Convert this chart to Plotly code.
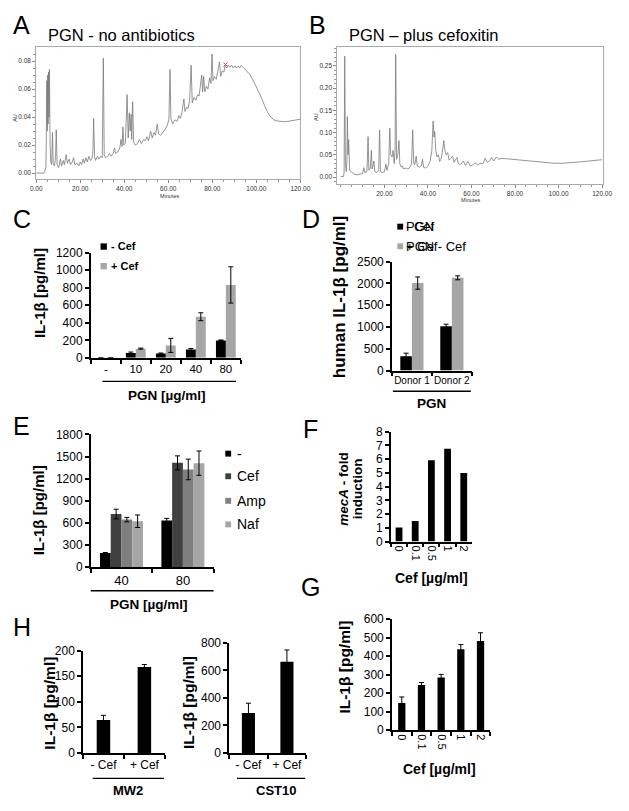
import plotly.graph_objects as go

W, H = 629, 811
FONT = "Liberation Sans, Arial, sans-serif"

# ---------------- data ----------------
# Panel A: chromatogram, PGN without antibiotics (minutes, AU)
A_min = [0, 3.5, 4.0, 4.4, 4.6, 4.8, 5.0, 5.2, 5.4, 5.6, 5.8, 6.0, 6.3, 6.6, 7.0, 7.4, 7.7, 8.3,
         8.8, 9.1, 9.5, 10.2, 11.0, 11.5, 12.3, 12.8, 13.6, 14.2, 15.0, 15.6, 16.4, 17.0, 17.5,
         18.5, 19.3, 20.0, 20.6, 21.3, 21.9, 22.6, 23.2, 24.0, 24.6, 25.3, 25.8, 26.1, 26.5, 27.0,
         27.8, 28.5, 29.4, 30.0, 30.5, 30.9, 31.5, 32.5, 33.3, 34.0, 35.0, 35.6, 36.0, 37.0, 38.0,
         38.5, 39.0, 39.4, 39.8, 40.5, 41.3, 41.8, 42.3, 42.7, 43.1, 43.4, 43.8, 44.3, 45.0, 46.0,
         47.0, 47.8, 48.8, 49.5, 50.3, 51.0, 52.0, 52.7, 53.5, 54.2, 55.0, 55.6, 56.5, 57.5, 58.5,
         59.5, 60.3, 60.8, 61.2, 62.0, 63.0, 64.0, 64.8, 65.5, 66.3, 67.1, 67.6, 68.3, 69.0, 69.7,
         70.4, 70.9, 71.7, 72.5, 73.3, 74.0, 74.7, 75.2, 75.6, 76.1, 76.6, 77.3, 78.0, 78.8, 79.4,
         79.9, 80.3, 81.0, 81.8, 82.5, 83.3, 83.8, 84.5, 85.3, 85.8, 86.5, 87.3, 88.0, 88.8, 89.5,
         90.3, 91.0, 91.8, 92.5, 93.2, 94.0, 95.0, 96.0, 97.0, 98.0, 99.0, 100.0, 101.0, 102.0,
         103.0, 104.0, 105.0, 106.0, 107.0, 108.0, 109.0, 110.0, 112.0, 114.0, 116.0, 118.0, 120.0]
A_au = [0.0, 0.0, 0.002, 0.004, 0.025, 0.066, 0.030, 0.070, 0.035, 0.072, 0.040, 0.074, 0.020,
        0.008, 0.006, 0.029, 0.007, 0.005, 0.012, 0.031, 0.006, 0.004, 0.010, 0.005, 0.009, 0.006,
        0.013, 0.007, 0.010, 0.006, 0.008, 0.011, 0.006, 0.007, 0.005, 0.008, 0.006, 0.010, 0.007,
        0.011, 0.008, 0.012, 0.009, 0.010, 0.016, 0.039, 0.012, 0.009, 0.012, 0.010, 0.012, 0.011,
        0.082, 0.013, 0.011, 0.012, 0.014, 0.012, 0.014, 0.018, 0.014, 0.015, 0.018, 0.024, 0.019,
        0.033, 0.020, 0.021, 0.056, 0.025, 0.043, 0.030, 0.042, 0.024, 0.051, 0.022, 0.020, 0.021,
        0.024, 0.021, 0.024, 0.023, 0.026, 0.023, 0.030, 0.025, 0.029, 0.027, 0.035, 0.028, 0.027,
        0.029, 0.031, 0.034, 0.038, 0.074, 0.039, 0.035, 0.038, 0.037, 0.041, 0.039, 0.044, 0.053,
        0.044, 0.047, 0.046, 0.052, 0.077, 0.050, 0.054, 0.052, 0.056, 0.055, 0.066, 0.070, 0.058,
        0.069, 0.058, 0.062, 0.060, 0.068, 0.064, 0.085, 0.066, 0.069, 0.067, 0.074, 0.0795, 0.069,
        0.073, 0.072, 0.077, 0.075, 0.077, 0.0755, 0.077, 0.075, 0.0765, 0.075, 0.0765, 0.075,
        0.0768, 0.0755, 0.074, 0.072, 0.0705, 0.068, 0.065, 0.062, 0.059, 0.055, 0.051, 0.047,
        0.044, 0.041, 0.0395, 0.038, 0.0373, 0.037, 0.0368, 0.0368, 0.0372, 0.0378, 0.0385]
A_mark_min = [86.0]
A_mark_au = [0.0775]

# Panel B: chromatogram, PGN plus cefoxitin (minutes, AU)
B_min = [0, 1.2, 1.5, 1.8, 2.1, 2.5, 2.8, 3.0, 3.3, 3.6, 4.0, 5.0, 6.0, 7.5, 9.0, 10.0, 10.6, 11.0,
         12.0, 12.5, 12.9, 13.6, 14.0, 14.4, 15.2, 15.6, 16.5, 17.4, 17.8, 18.2, 19.0, 20.0, 20.7,
         21.2, 22.0, 22.5, 22.9, 23.5, 24.0, 24.5, 24.9, 25.2, 25.6, 26.2, 26.7, 27.1, 27.8, 28.2,
         28.8, 29.8, 30.8, 31.8, 32.5, 33.0, 33.5, 34.0, 34.6, 35.1, 36.0, 37.0, 37.5, 38.0, 39.0,
         40.0, 41.0, 41.8, 42.4, 42.8, 43.1, 43.6, 44.2, 44.8, 45.4, 46.0, 46.6, 47.3, 47.8, 48.4,
         49.1, 49.7, 50.5, 51.3, 52.0, 52.7, 53.3, 54.0, 55.0, 56.3, 57.3, 58.4, 59.5, 60.5, 61.8,
         62.8, 64.0, 65.3, 66.3, 67.2, 68.3, 69.3, 70.2, 71.5, 72.5, 74.0, 76.0, 78.0, 80.0, 83.0,
         86.0, 90.0, 94.0, 98.0, 102.0, 106.0, 110.0, 114.0, 118.0, 120.0]
B_au = [0.001, 0.001, 0.010, 0.272, 0.030, 0.012, 0.040, 0.136, 0.050, 0.084, 0.015, 0.010, 0.007,
        0.005, 0.006, 0.008, 0.021, 0.010, 0.012, 0.091, 0.015, 0.020, 0.060, 0.018, 0.036, 0.012,
        0.010, 0.015, 0.106, 0.012, 0.010, 0.012, 0.029, 0.015, 0.030, 0.110, 0.050, 0.045, 0.060,
        0.030, 0.060, 0.276, 0.040, 0.050, 0.082, 0.030, 0.022, 0.025, 0.018, 0.020, 0.018, 0.022,
        0.030, 0.106, 0.030, 0.028, 0.047, 0.025, 0.022, 0.025, 0.040, 0.022, 0.020, 0.025, 0.035,
        0.060, 0.126, 0.090, 0.1025, 0.060, 0.045, 0.050, 0.035, 0.040, 0.055, 0.082, 0.060, 0.050,
        0.055, 0.038, 0.042, 0.047, 0.033, 0.038, 0.044, 0.030, 0.028, 0.036, 0.026, 0.035, 0.025,
        0.027, 0.032, 0.027, 0.031, 0.030, 0.042, 0.033, 0.036, 0.044, 0.036, 0.045, 0.040, 0.042,
        0.041, 0.0405, 0.040, 0.038, 0.036, 0.034, 0.032, 0.031, 0.031, 0.032, 0.034, 0.036, 0.038,
        0.039]

# Panel C
C_dose = ["-", "10", "20", "40", "80"]
C_minus_cef = [0, 56, 49, 94, 199]
C_minus_err = [None, 10, 6, 12, 5]
C_plus_cef = [0, 105, 142, 469, 832]
C_plus_err = [None, 6, 80, 45, 207]

# Panel D
D_donor = ["Donor 1", "Donor 2"]
D_minus = [329, 1018]
D_minus_err = [70, 45]
D_plus = [2006, 2126]
D_plus_err = [140, 45]

# Panel E
E_dose = ["40", "80"]
E_none = [191, 632]
E_none_err = [8, 30]
E_cef = [721, 1415]
E_cef_err = [65, 95]
E_amp = [645, 1326]
E_amp_err = [30, 140]
E_naf = [623, 1411]
E_naf_err = [85, 165]

# Panel F
F_cef = ["0", "0.1", "0.5", "1", "2"]
F_fold = [1.02, 1.49, 5.92, 6.75, 4.99]

# Panel G
G_cef = ["0", "0.1", "0.5", "1", "2"]
G_il1b = [148, 245, 285, 438, 482]
G_err = [32, 13, 17, 25, 45]

# Panel H
H_cond = ["- Cef", "+ Cef"]
H_mw2 = [64.5, 168]
H_mw2_err = [9, 5]
H_cst10 = [290, 662]
H_cst10_err = [71, 86]

# ---------------- styling helpers ----------------
def xd(l, r):
    return [l / W, r / W]

def yd(t, b):
    return [1 - b / H, 1 - t / H]

def px(x):
    return x / W

def py(y):
    return 1 - y / H

def ref(n, ax):
    return ax if n == 1 else f"{ax}{n}"

layout = dict(
    width=W, height=H, autosize=False,
    margin=dict(l=0, r=0, t=0, b=0),
    paper_bgcolor="white", plot_bgcolor="white",
    showlegend=False, barmode="overlay",
    font=dict(family=FONT, color="black"),
)

AXW = 1.5

def chrom_axes(n, xbox, ybox, xrange, xticks, yrange, yticks, yminor):
    layout[f"xaxis{n}"] = dict(
        domain=xd(*xbox), anchor=ref(n, "y"), range=xrange, tickvals=xticks,
        tickformat=".2f", ticks="outside", ticklen=3, tickwidth=0.8, tickcolor="#888",
        showline=True, mirror=True, linecolor="#aaa", linewidth=1,
        tickfont=dict(size=6.5, color="#333"), showgrid=False, zeroline=False,
        minor=dict(ticks="outside", dtick=5, ticklen=2, tickcolor="#999", tickwidth=0.6),
        fixedrange=True)
    layout[f"yaxis{n}"] = dict(
        domain=yd(*ybox), anchor=ref(n, "x"), range=yrange, tickvals=yticks,
        tickformat=".2f", ticks="outside", ticklen=3, tickwidth=0.8, tickcolor="#888",
        showline=True, mirror=True, linecolor="#aaa", linewidth=1,
        tickfont=dict(size=6.5, color="#333"), showgrid=False, zeroline=False,
        minor=dict(ticks="outside", dtick=yminor, ticklen=2, tickcolor="#999", tickwidth=0.6),
        fixedrange=True)

def bar_axes(n, xbox, ybox, cats, yrange, dtick, xfont=12, yfont=12, tickangle=0):
    layout[f"xaxis{n}"] = dict(
        domain=xd(*xbox), anchor=ref(n, "y"), type="category",
        categoryorder="array", categoryarray=cats, range=[-0.5, len(cats) - 0.5],
        showline=True, linecolor="black", linewidth=AXW,
        ticks="outside", tickson="boundaries", ticklen=4, tickwidth=AXW, tickcolor="black",
        tickfont=dict(size=xfont, color="black"), tickangle=tickangle,
        showgrid=False, zeroline=False, fixedrange=True)
    layout[f"yaxis{n}"] = dict(
        domain=yd(*ybox), anchor=ref(n, "x"), range=yrange, tick0=0, dtick=dtick,
        showline=True, linecolor="black", linewidth=AXW,
        ticks="outside", ticklen=4, tickwidth=AXW, tickcolor="black",
        tickfont=dict(size=yfont, color="black"),
        showgrid=False, zeroline=False, fixedrange=True)

traces = []

def add_bar(n, x, y, err, color, width, offset=None):
    kw = dict(x=x, y=y, xaxis=ref(n, "x"), yaxis=ref(n, "y"),
              marker=dict(color=color, line=dict(width=0)), width=width)
    if offset is not None:
        kw["offset"] = offset
    if err is not None:
        kw["error_y"] = dict(type="data", array=err, color="black", thickness=1, width=2.5)
    traces.append(go.Bar(**kw))

BLACK, DARK, MID, LIGHT = "#000000", "#404040", "#7f7f7f", "#a6a6a6"
LINE = "#7a7a7a"

# A
chrom_axes(1, (31, 302), (41, 175), [0, 120], [0, 20, 40, 60, 80, 100, 120],
           [-0.0042, 0.0898], [0, 0.02, 0.04, 0.06, 0.08], 0.005)
traces.append(go.Scatter(x=A_min, y=A_au, mode="lines", xaxis="x", yaxis="y",
                         line=dict(color=LINE, width=0.8)))
traces.append(go.Scatter(x=A_mark_min, y=A_mark_au, mode="markers", xaxis="x", yaxis="y",
                         marker=dict(symbol="x-thin", size=4, color="#e04040",
                                     line=dict(color="#e04040", width=1))))
# B
chrom_axes(2, (340, 613), (41, 180), [-1.6, 120.6], [20, 40, 60, 80, 100, 120],
           [-0.0155, 0.292], [0, 0.05, 0.10, 0.15, 0.20, 0.25], 0.01)
traces.append(go.Scatter(x=B_min, y=B_au, mode="lines", xaxis="x2", yaxis="y2",
                         line=dict(color=LINE, width=0.8)))

# C
bar_axes(3, (87, 241), (250, 357), C_dose, [0, 1200], 200, xfont=11.5)
add_bar(3, C_dose, C_minus_cef, C_minus_err, BLACK, 0.33, -0.33)
add_bar(3, C_dose, C_plus_cef, C_plus_err, LIGHT, 0.33, 0.0)

# D
bar_axes(4, (396, 478), (259, 370), D_donor, [0, 2500], 500, xfont=10)
add_bar(4, D_donor, D_minus, D_minus_err, BLACK, 0.29, -0.29)
add_bar(4, D_donor, D_plus, D_plus_err, LIGHT, 0.29, 0.0)

# E
bar_axes(5, (87, 213), (435, 570), E_dose, [0, 1800], 300, xfont=13)
add_bar(5, E_dose, E_none, E_none_err, BLACK, 0.175, -0.35)
add_bar(5, E_dose, E_cef, E_cef_err, DARK, 0.175, -0.175)
add_bar(5, E_dose, E_amp, E_amp_err, MID, 0.175, 0.0)
add_bar(5, E_dose, E_naf, E_naf_err, LIGHT, 0.175, 0.175)

# F
bar_axes(6, (395, 478), (432, 544), F_cef, [0, 8], 1, xfont=11, tickangle=90)
add_bar(6, F_cef, F_fold, None, BLACK, 0.42)

# G
bar_axes(7, (396, 497), (623, 736), G_cef, [0, 600], 100, xfont=11, tickangle=90)
add_bar(7, G_cef, G_il1b, G_err, BLACK, 0.37)

# H
bar_axes(8, (79, 163), (655, 759), H_cond, [0, 200], 50, xfont=12)
add_bar(8, H_cond, H_mw2, H_mw2_err, BLACK, 0.33)
bar_axes(9, (229, 308), (647, 759), H_cond, [0, 800], 200, xfont=12)
add_bar(9, H_cond, H_cst10, H_cst10_err, BLACK, 0.34)

# ---------------- annotations ----------------
annotations = []

def ann(text, x, y, size, angle=0, xanchor="center", yanchor="middle", color="black"):
    annotations.append(dict(text=text, x=px(x), y=py(y), xref="paper", yref="paper",
                            showarrow=False, textangle=angle, xanchor=xanchor,
                            yanchor=yanchor, font=dict(size=size, color=color, family=FONT)))

# panel letters
for letter, x, y in [("A", 16, 18), ("B", 320, 18), ("C", 16, 216), ("D", 313, 216),
                     ("E", 16, 426), ("F", 312, 429), ("G", 312, 590), ("H", 16, 631)]:
    ann(letter, x, y, 25)

# chromatogram titles and axis labels
ann("PGN - no antibiotics", 118.5, 28, 16.5)
ann("PGN \u2013 plus cefoxitin", 428, 28, 16.5)
ann("AU", 9, 113, 5.5, angle=-90, color="#333")
ann("Minutes", 168, 192, 5.5, color="#333")
ann("AU", 318, 112, 5.5, angle=-90, color="#333")
ann("Minutes", 477, 196, 5.5, color="#333")

# y axis titles
ann("<b>IL-1\u03b2 [pg/ml]</b>", 35, 291, 15, angle=-90)
ann("<b>human IL-1\u03b2 [pg/ml]</b>", 343, 295, 17, angle=-90)
ann("<b>IL-1\u03b2 [pg/ml]</b>", 33, 512, 15, angle=-90)
ann("<b><i>mecA</i> - fold</b>", 346, 490, 13.5, angle=-90)
ann("<b>induction</b>", 361, 490, 13.5, angle=-90)
ann("<b>IL-1\u03b2 [pg/ml]</b>", 347, 672, 15.5, angle=-90)
ann("<b>IL-1\u03b2 [pg/ml]</b>", 45, 708, 15.5, angle=-90)
ann("<b>IL-1\u03b2 [pg/ml]</b>", 188, 708, 15.5, angle=-90)

# x axis titles
ann("<b>PGN [\u00b5g/ml]</b>", 165, 395, 13.5)
ann("<b>PGN</b>", 437, 403, 13.5)
ann("<b>PGN [\u00b5g/ml]</b>", 147, 608, 13.5)
ann("<b>Cef [\u00b5g/ml]</b>", 437, 581, 14)
ann("<b>Cef [\u00b5g/ml]</b>", 445, 775, 14)
ann("<b>MW2</b>", 125, 797, 13)
ann("<b>CST10</b>", 277, 797, 13)

# legends (text)
ann("<b>- Cef</b>", 106, 243.5, 11, xanchor="left")
ann("<b>+ Cef</b>", 106, 263.5, 11, xanchor="left")
ann("PGN", 408, 223.5, 13, xanchor="left")
ann("- Cef", 408, 223.5, 13, xanchor="left")
ann("PGN - Cef", 408, 243.5, 13, xanchor="left")
ann("+ Cef", 408, 243.5, 13, xanchor="left")
ann("-", 235, 454.5, 14, xanchor="left")
ann("Cef", 235, 477.5, 14, xanchor="left")
ann("Amp", 235, 502.5, 14, xanchor="left")
ann("Naf", 235, 526.5, 14, xanchor="left")

# ---------------- shapes ----------------
shapes = []

def hline(x0, x1, y):
    shapes.append(dict(type="line", xref="paper", yref="paper", x0=px(x0), x1=px(x1),
                       y0=py(y), y1=py(y), line=dict(color="black", width=1.3)))

def square(x0, y0, size, color):
    shapes.append(dict(type="rect", xref="paper", yref="paper", x0=px(x0), x1=px(x0 + size),
                       y0=py(y0 + size), y1=py(y0), fillcolor=color, line=dict(width=0)))

hline(99, 236, 381)
hline(397, 477, 391)
hline(87, 213, 594)
hline(89, 162, 785)
hline(237, 307, 785)

square(97, 240.5, 6.5, BLACK)
square(97, 260.5, 6.5, LIGHT)
square(401.5, 220.5, 6, BLACK)
square(401.5, 240.5, 6, LIGHT)
square(225, 451.5, 6, BLACK)
square(225, 474.5, 6, DARK)
square(225, 499.5, 6, MID)
square(225, 523.5, 6, LIGHT)

layout["annotations"] = annotations
layout["shapes"] = shapes

fig = go.Figure(data=traces, layout=layout)
fig.write_html("out.html", config={"displayModeBar": False},
               post_script="document.body.style.margin='0px';document.body.style.overflow='hidden';")
